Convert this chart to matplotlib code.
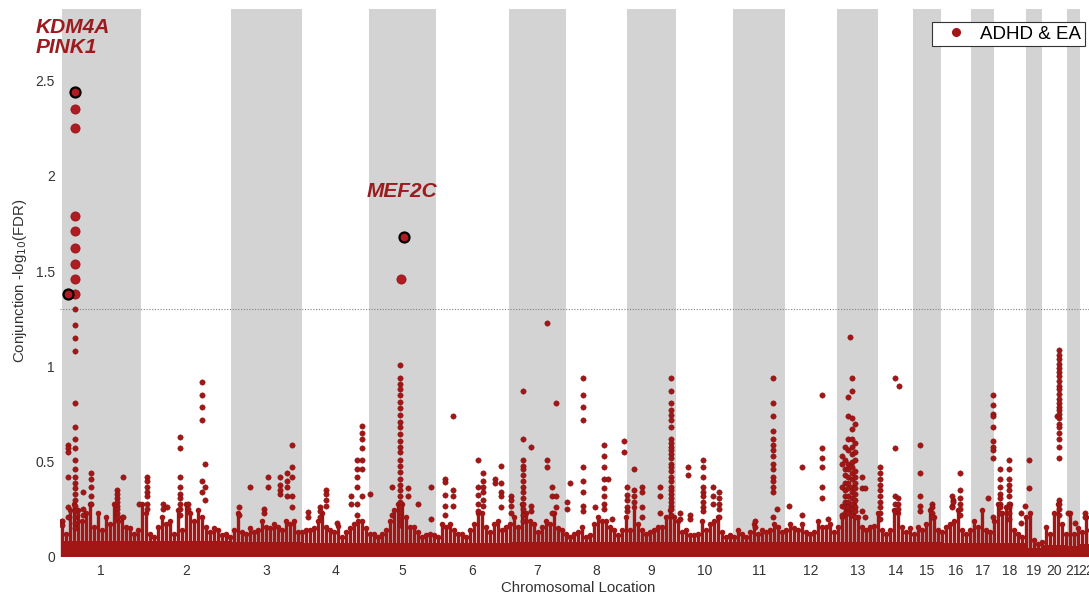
import numpy as np
import matplotlib
matplotlib.use("Agg")
import matplotlib.pyplot as plt
from matplotlib.lines import Line2D

plt.rcParams["font.family"] = ["Liberation Sans", "DejaVu Sans"]

# chromosome widths on the genome axis (same units as positions below)
chrom_names = [str(i) for i in range(1, 23)]
chrom_len = [79, 90, 71, 67, 67, 73, 57, 61, 49, 57, 52, 52,
             41, 35, 28, 30, 23, 32, 16, 25, 13, 13]

# solid band of the many near-zero SNPs, one level per chromosome
floor_h = [0.085, 0.085, 0.08, 0.075, 0.075, 0.075, 0.08, 0.08, 0.08, 0.08, 0.078,
           0.078, 0.08, 0.078, 0.078, 0.075, 0.075, 0.075, 0.045, 0.065, 0.06, 0.07]

# ragged top of the dense band, read every 4 units along the genome
skyline = [
    [0.19, 0.12, 0.245, 0.28, 0.245, 0.19, 0.23, 0.28, 0.16, 0.23, 0.14, 0.21, 0.175, 0.28, 0.19, 0.21, 0.16, 0.15, 0.12, 0.14],
    [0.28, 0.23, 0.12, 0.105, 0.16, 0.21, 0.175, 0.19, 0.12, 0.245, 0.14, 0.28, 0.23, 0.19, 0.245, 0.21, 0.16, 0.13, 0.15, 0.14, 0.115, 0.12, 0.105],
    [0.14, 0.23, 0.13, 0.12, 0.15, 0.13, 0.14, 0.19, 0.16, 0.15, 0.175, 0.16, 0.14, 0.19, 0.175, 0.19, 0.13],
    [0.13, 0.14, 0.14, 0.15, 0.19, 0.23, 0.16, 0.14, 0.13, 0.165, 0.105, 0.13, 0.15, 0.175, 0.19, 0.19, 0.15],
    [0.12, 0.12, 0.105, 0.12, 0.14, 0.19, 0.245, 0.28, 0.28, 0.21, 0.16, 0.16, 0.13, 0.105, 0.115, 0.12, 0.115],
    [0.105, 0.175, 0.16, 0.175, 0.14, 0.12, 0.12, 0.105, 0.14, 0.175, 0.23, 0.23, 0.16, 0.13, 0.175, 0.19, 0.14, 0.16],
    [0.175, 0.21, 0.16, 0.28, 0.23, 0.19, 0.175, 0.13, 0.16, 0.19, 0.175, 0.23, 0.15, 0.14],
    [0.12, 0.105, 0.12, 0.13, 0.16, 0.105, 0.115, 0.175, 0.21, 0.19, 0.19, 0.16, 0.14, 0.115, 0.14, 0.21],
    [0.14, 0.26, 0.175, 0.14, 0.12, 0.13, 0.14, 0.16, 0.16, 0.21, 0.245, 0.21],
    [0.19, 0.13, 0.14, 0.115, 0.115, 0.12, 0.19, 0.14, 0.175, 0.19, 0.21, 0.13, 0.105, 0.115],
    [0.105, 0.14, 0.12, 0.105, 0.13, 0.175, 0.12, 0.14, 0.13, 0.14, 0.175, 0.16, 0.13],
    [0.14, 0.175, 0.15, 0.14, 0.175, 0.13, 0.12, 0.13, 0.19, 0.16, 0.16, 0.175, 0.13],
    [0.16, 0.21, 0.245, 0.28, 0.28, 0.21, 0.16, 0.14, 0.16, 0.165],
    [0.23, 0.14, 0.12, 0.14, 0.245, 0.23, 0.16, 0.13, 0.15],
    [0.12, 0.16, 0.14, 0.175, 0.245, 0.21, 0.14],
    [0.13, 0.16, 0.175, 0.19, 0.245, 0.14, 0.12],
    [0.14, 0.19, 0.16, 0.245, 0.14, 0.13],
    [0.19, 0.28, 0.23, 0.26, 0.28, 0.14, 0.12, 0.105],
    [0.21, 0.23, 0.09, 0.07],
    [0.08, 0.16, 0.12, 0.23, 0.28, 0.175, 0.12],
    [0.23, 0.12, 0.15],
    [0.13, 0.21, 0.14],
]
skyline_step = 4

# columns of SNPs standing out of the band: genome position, -log10(FDR) values
spike_pos = [0.5, 6.6, 13.3, 21, 29, 55, 61.3, 77.3,
             85, 101.3, 105, 118.3, 126, 140, 143.3,
             177.6, 188.3, 202.3, 206.6, 218.3, 225, 230.6,
             246.6, 258.3, 264, 275.6, 289, 295.3, 300,
             308.3, 330, 338.3, 346.6, 356.6, 369,
             383.3, 391, 416.6, 421.6, 433, 439,
             449.3, 461, 469.3, 485.3, 490, 494, 505.6, 508.3,
             521.6, 533.3, 542.3, 546, 550, 562.6,
             565, 572.6, 580.6, 598.3, 609, 618.3,
             626.6, 628, 641, 651.6, 657.3,
             693.3, 711.6, 715,
             727.6, 740, 760, 766.6,
             780, 783.3, 786.6, 788.3, 790, 793.3, 800, 803.3,
             818.3, 833.3, 836.6, 837.6,
             858.3, 870,
             890, 891.6, 898.3,
             926.6, 931,
             938.3, 947.6, 959,
             963.3, 967.6,
             995, 997.6, 1006.3,
             1013.3, 1023.3]
spike_vals = [
    [0.19, 0.17],
    [0.59, 0.57, 0.55, 0.42, 0.26, 0.21],
    [1.30, 1.22, 1.15, 1.08, 0.81, 0.68, 0.62, 0.57, 0.51, 0.46, 0.42, 0.39, 0.36, 0.33, 0.30, 0.27, 0.24, 0.21, 0.18, 0.15],
    [0.34, 0.25, 0.22],
    [0.44, 0.41, 0.37, 0.32, 0.28],
    [0.35, 0.33, 0.31, 0.29, 0.27, 0.25, 0.23, 0.21],
    [0.42, 0.21],
    [0.28],
    [0.42, 0.40, 0.37, 0.34, 0.32, 0.28, 0.25],
    [0.28, 0.25],
    [0.26],
    [0.63, 0.57, 0.42, 0.37, 0.33, 0.31, 0.28, 0.25, 0.22],
    [0.28, 0.25],
    [0.92, 0.85, 0.79, 0.72, 0.40, 0.34],
    [0.49, 0.37, 0.30],
    [0.26, 0.22],
    [0.37],
    [0.25, 0.23],
    [0.42, 0.37],
    [0.42, 0.38, 0.35, 0.33],
    [0.44, 0.40, 0.37, 0.32],
    [0.59, 0.47, 0.42, 0.32, 0.26],
    [0.235, 0.21],
    [0.26, 0.24, 0.21],
    [0.35, 0.33, 0.30, 0.27],
    [0.18],
    [0.32, 0.28],
    [0.51, 0.46, 0.42, 0.37, 0.28, 0.22],
    [0.69, 0.65, 0.62, 0.57, 0.51, 0.46, 0.32],
    [0.33],
    [0.37, 0.22],
    [1.01, 0.94, 0.91, 0.88, 0.85, 0.815, 0.78, 0.745, 0.71, 0.68, 0.645, 0.61, 0.58,
     0.55, 0.51, 0.48, 0.445, 0.41, 0.38, 0.35, 0.32, 0.29, 0.26, 0.23, 0.20, 0.17],
    [0.36, 0.32],
    [0.28],
    [0.37, 0.20],
    [0.41, 0.395, 0.325, 0.27, 0.22],
    [0.74, 0.35, 0.32, 0.27],
    [0.51, 0.37, 0.325, 0.28, 0.24],
    [0.44, 0.40, 0.37, 0.34, 0.30, 0.27],
    [0.41, 0.39],
    [0.48, 0.39, 0.34, 0.32, 0.26],
    [0.32, 0.30, 0.27, 0.23],
    [0.87, 0.62, 0.51, 0.48, 0.46, 0.43, 0.40, 0.37, 0.34, 0.31, 0.28, 0.25, 0.22, 0.19],
    [0.58, 0.27, 0.24],
    [1.23, 0.51, 0.47],
    [0.37, 0.32, 0.23],
    [0.81, 0.32, 0.26],
    [0.29, 0.25],
    [0.39],
    [0.94, 0.85, 0.79, 0.72, 0.47, 0.40, 0.34, 0.27, 0.24],
    [0.26],
    [0.59, 0.53, 0.47, 0.41, 0.36, 0.32, 0.28, 0.25],
    [0.41],
    [0.20],
    [0.61, 0.55],
    [0.37, 0.325, 0.30, 0.26, 0.24],
    [0.46, 0.35, 0.32, 0.29],
    [0.37, 0.34, 0.26, 0.21],
    [0.37, 0.32, 0.23],
    [0.94, 0.87, 0.81, 0.77, 0.745, 0.72, 0.68, 0.62, 0.60, 0.58, 0.56, 0.54, 0.52,
     0.49, 0.47, 0.45, 0.42, 0.40, 0.37, 0.35, 0.33, 0.31, 0.29, 0.27, 0.25, 0.22],
    [0.23, 0.20],
    [0.47, 0.43],
    [0.22, 0.20],
    [0.51, 0.47, 0.42, 0.37, 0.34, 0.32, 0.29, 0.26, 0.24],
    [0.37, 0.32, 0.28],
    [0.34, 0.31, 0.28, 0.25, 0.21],
    [0.19, 0.16],
    [0.94, 0.81, 0.74, 0.66, 0.62, 0.59, 0.56, 0.53, 0.49, 0.46, 0.42, 0.40, 0.37, 0.34, 0.21],
    [0.25],
    [0.27],
    [0.47, 0.22],
    [0.85, 0.57, 0.52, 0.47, 0.37, 0.31],
    [0.20],
    [0.53, 0.49, 0.37, 0.27, 0.22],
    [0.58, 0.51, 0.46, 0.43, 0.39, 0.35, 0.32, 0.29, 0.26, 0.23],
    [0.84, 0.74, 0.62, 0.56, 0.49, 0.46, 0.42, 0.39, 0.36, 0.32, 0.29, 0.26, 0.23],
    [1.155],
    [0.94, 0.87, 0.73, 0.67, 0.62, 0.58, 0.54, 0.50, 0.47, 0.44, 0.41, 0.37, 0.34, 0.31, 0.28, 0.25, 0.22],
    [0.70, 0.60, 0.55, 0.51, 0.45, 0.42, 0.39, 0.36, 0.33, 0.30, 0.26, 0.24, 0.21],
    [0.42, 0.36, 0.24],
    [0.36, 0.21],
    [0.47, 0.44, 0.41, 0.38, 0.35, 0.32, 0.29, 0.26, 0.23, 0.20],
    [0.94, 0.57, 0.32, 0.28, 0.24],
    [0.31, 0.28, 0.25],
    [0.90],
    [0.59, 0.44, 0.32, 0.27, 0.24],
    [0.28, 0.26, 0.23, 0.21],
    [0.32, 0.27, 0.26],
    [0.30, 0.29],
    [0.44, 0.35, 0.31, 0.28, 0.25, 0.22],
    [0.31],
    [0.85, 0.80, 0.75, 0.74, 0.68, 0.61, 0.58, 0.56, 0.52, 0.21],
    [0.46, 0.41, 0.37, 0.33, 0.31, 0.28, 0.26, 0.23],
    [0.51, 0.46, 0.41, 0.38, 0.35, 0.32, 0.28, 0.26, 0.23, 0.20],
    [0.23, 0.18],
    [0.27],
    [0.51, 0.36],
    [0.74],
    [1.087, 1.06, 1.04, 1.015, 0.99, 0.97, 0.95, 0.925, 0.90, 0.88, 0.855, 0.83, 0.81, 0.79,
     0.77, 0.75, 0.73, 0.70, 0.68, 0.65, 0.62, 0.58, 0.52, 0.30, 0.28, 0.25, 0.22],
    [0.23],
    [0.18],
    [0.23, 0.21],
]

# SNPs past the FDR < 0.05 line (drawn larger)
sig_pos = [13.3, 13.3, 13.3, 13.3, 13.3, 13.3, 13.3, 13.3, 338.8]
sig_val = [2.35, 2.25, 1.79, 1.71, 1.62, 1.54, 1.46, 1.38, 1.46]

# lead SNPs with black outline
lead_pos = [13.3, 6.6, 342.3]
lead_val = [2.44, 1.38, 1.68]

# gene labels
gene_text = ["KDM4A", "PINK1", "MEF2C"]
gene_x = [-25.7, -25.7, 340]
gene_y = [2.782, 2.677, 1.918]
gene_ha = ["left", "left", "center"]

fdr_cut = 0.05

RED = "#A31616"
LABEL_RED = "#9B1B1F"
TXT = "#333333"


def main():
    chrom_start = np.concatenate([[0], np.cumsum(chrom_len)[:-1]])
    chrom_mid = chrom_start + np.array(chrom_len) / 2.0

    fig = plt.figure(figsize=(10.89, 5.97), dpi=100)
    ax = fig.add_axes([59.7 / 1089, 40 / 597, 1029.3 / 1089, 547.7 / 597])
    ax.set_xlim(-2, 1027.3)
    ax.set_ylim(0, 2.875)

    # alternating grey chromosome bands
    for i, (s, w) in enumerate(zip(chrom_start, chrom_len)):
        if i % 2 == 0:
            ax.axvspan(s, s + w, color="#D3D3D3", lw=0, zorder=0)

    ax.axhline(-np.log10(fdr_cut), color="#808080", ls=(0, (1, 1.5)), lw=0.8, zorder=1)

    # dense band near zero
    ax.bar(chrom_start, floor_h, width=chrom_len, align="edge", color=RED, lw=0, zorder=2)
    sky = np.concatenate([np.array(v) for v in skyline])
    sky_x = np.arange(len(sky)) * skyline_step
    ax.vlines(sky_x, 0, sky, color=RED, lw=2.4, zorder=2)
    ax.scatter(sky_x, sky, s=16, color=RED, lw=0, zorder=3)

    # columns of points
    px, py = [], []
    for p, vals in zip(spike_pos, spike_vals):
        px += [p] * len(vals)
        py += vals
    ax.scatter(px, py, s=15, color=RED, edgecolor="#7A0E0E", lw=0.3, zorder=3)

    ax.scatter(sig_pos, sig_val, s=44, color="#B01C22", edgecolor="#8A1016", lw=0.5, zorder=4)
    ax.scatter(lead_pos, lead_val, s=52, color="#B01C22", edgecolor="black", lw=1.6, zorder=5)

    for t, x, y, ha in zip(gene_text, gene_x, gene_y, gene_ha):
        ax.text(x, y, t, ha=ha, va="center", fontsize=15, fontweight="bold",
                fontstyle="italic", color=LABEL_RED, clip_on=False, zorder=6)

    for sp in ax.spines.values():
        sp.set_visible(False)
    ax.set_xticks(chrom_mid)
    ax.set_xticklabels(chrom_names)
    ax.set_yticks([0, 0.5, 1, 1.5, 2, 2.5])
    ax.set_yticklabels(["0", "0.5", "1", "1.5", "2", "2.5"])
    ax.tick_params(axis="x", length=0, pad=5, labelsize=10, labelcolor=TXT)
    ax.tick_params(axis="y", length=0, pad=3.5, labelsize=10, labelcolor=TXT)

    fig.text(578 / 1089, 1 - 588 / 597, "Chromosomal Location", ha="center", va="center",
             fontsize=10.8, color=TXT)
    fig.text(20 / 1089, 1 - 281 / 597, "Conjunction -log$_{10}$(FDR)", rotation=90,
             ha="center", va="center", fontsize=10.8, color=TXT)

    handle = Line2D([], [], ls="none", marker="o", markersize=5.5, color=RED)
    leg = ax.legend([handle], ["ADHD & EA"], loc="upper right",
                    bbox_to_anchor=(1085 / 1089, 1 - 21.7 / 597), bbox_transform=fig.transFigure,
                    borderaxespad=0, fontsize=13.5, frameon=True, fancybox=False,
                    framealpha=1, edgecolor="#333333", handlelength=2.2,
                    handletextpad=0.2, borderpad=0.2)
    leg.get_frame().set_linewidth(0.8)
    leg.set_zorder(10)

    fig.savefig("out.png", dpi=100)


if __name__ == "__main__":
    main()
